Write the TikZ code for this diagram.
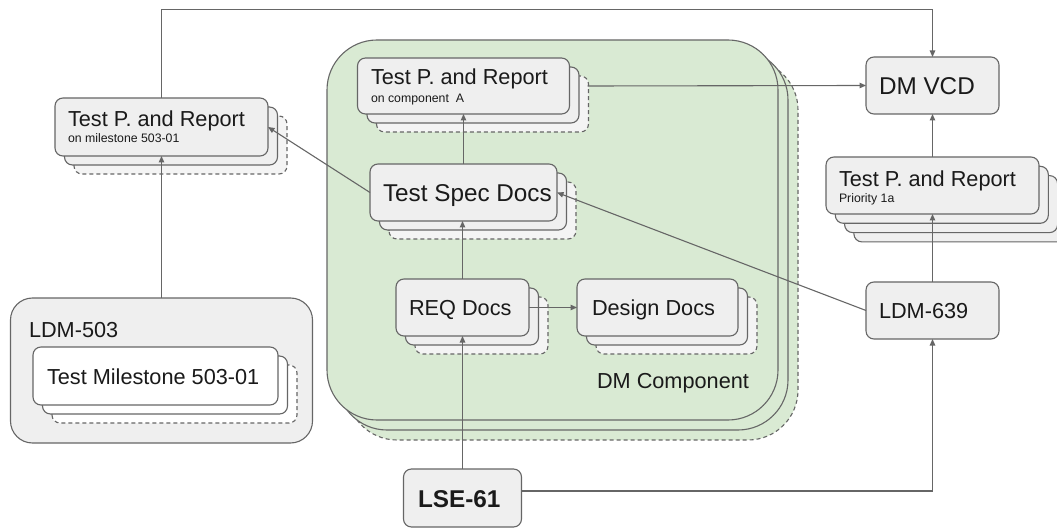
\documentclass[tikz,border=0pt]{standalone}
\usepackage{fontspec}
\setmainfont{Liberation Sans}
\usetikzlibrary{arrows.meta}
\definecolor{lc}{HTML}{666666}
\definecolor{bfill}{HTML}{EFEFEF}
\definecolor{dfill}{HTML}{F4F4F4}
\definecolor{gfill}{HTML}{D9EAD3}
\definecolor{tc}{HTML}{1A1A1A}
\pgfdeclarelayer{bg}
\pgfdeclarelayer{back}
\pgfsetlayers{bg,back,main}
\newcommand\fmain{\fontsize{21.7}{26}\selectfont}
\newcommand\flarge{\fontsize{24.3}{29}\selectfont}
\newcommand\fsmall{\fontsize{12.3}{15}\selectfont}
\newcommand\layerstack[3]{%
  \begin{pgfonlayer}{back}
    \draw[box, dashlayer, fill=#3] ([shift={(19,18)}]#1.south west) rectangle ([shift={(19,18)}]#1.north east);
    \draw[box, fill=#2] ([shift={(9.5,9)}]#1.south west) rectangle ([shift={(9.5,9)}]#1.north east);
  \end{pgfonlayer}}
\begin{document}
\begin{tikzpicture}[x=1pt,y=-1pt,
  box/.style={draw=lc, fill=bfill, rounded corners=8pt, line width=1.1pt, inner sep=0pt, outer sep=0pt},
  dashlayer/.style={dash pattern=on 4pt off 3pt},
  txt/.style={inner sep=0pt, outer sep=0pt, text=tc, anchor=base west},
  arr/.style={draw=lc, line width=1.1pt, -{Triangle[length=6.5pt,width=5.5pt]}},
  gbox/.style={box, fill=gfill, rounded corners=50pt}]
\useasboundingbox (0,0) rectangle (1057,529);

% ---- containers (drawn on the background layer) ----
\node[inner sep=0pt, outer sep=0pt, minimum width=451pt, minimum height=380pt] (dmc) at (552.5,230) {};
\begin{pgfonlayer}{bg}
  \draw[gbox, dashlayer] ([shift={(20,20)}]dmc.south west) rectangle ([shift={(20,20)}]dmc.north east);
  \draw[gbox] ([shift={(10,10)}]dmc.south west) rectangle ([shift={(10,10)}]dmc.north east);
  \draw[gbox] (dmc.south west) rectangle (dmc.north east);
  \node[box, rounded corners=22pt, minimum width=302pt, minimum height=145pt] (ldm503) at (161.5,370.5) {};
\end{pgfonlayer}

% ---- boxes ----
\node[box, minimum width=213pt, minimum height=58pt] (tpl) at (161.5,127) {};
\node[box, minimum width=212pt, minimum height=56pt] (tpc) at (463.5,86) {};
\node[box, minimum width=213pt, minimum height=57pt] (tpp) at (932.5,185.5) {};
\node[box, minimum width=133pt, minimum height=57pt] (dmvcd) at (932.5,85.5) {};
\node[box, minimum width=187pt, minimum height=57pt] (ts) at (463.5,192.5) {};
\node[box, minimum width=133pt, minimum height=57pt] (req) at (462.5,307.5) {};
\node[box, minimum width=161pt, minimum height=57pt] (design) at (657.5,307.5) {};
\node[box, minimum width=133pt, minimum height=57pt] (ldm639) at (932.5,310.5) {};
\node[box, fill=white, minimum width=245pt, minimum height=58pt] (mile) at (155.5,376) {};
\node[box, minimum width=118pt, minimum height=58pt] (lse) at (462.5,498) {};

% ---- stacked layers ----
\layerstack{tpl}{bfill}{dfill}
\layerstack{tpc}{bfill}{dfill}
\layerstack{ts}{bfill}{dfill}
\layerstack{req}{bfill}{dfill}
\layerstack{design}{bfill}{dfill}
\layerstack{mile}{white}{white}
\begin{pgfonlayer}{back}
  \foreach \k in {3,2,1}{
    \draw[box] ([shift={(9.3*\k,9.3*\k)}]tpp.south west) rectangle ([shift={(9.3*\k,9.3*\k)}]tpp.north east);
  }
\end{pgfonlayer}

% ---- texts ----
\node[txt, font=\fmain] (tpl-a) at (68,127) {Test P. and Report};
\node[txt, font=\fsmall] (tpl-b) at (68,143) {on milestone 503-01};
\node[txt, font=\fmain] (tpc-a) at (371,85) {Test P. and Report};
\node[txt, font=\fsmall] (tpc-b) at (371,103) {on component\ \ A};
\node[txt, font=\fmain] (tpp-a) at (839,187) {Test P. and Report};
\node[txt, font=\fsmall] (tpp-b) at (839,203) {Priority 1a};
\node[txt, font=\flarge] (dmvcd-t) at (879,94.5) {DM VCD};
\node[txt, font=\flarge] (ts-t) at (383,201.5) {Test Spec Docs};
\node[txt, font=\fmain] (req-t) at (409,315.5) {REQ Docs};
\node[txt, font=\fmain] (design-t) at (592,315.5) {Design Docs};
\node[txt, font=\fmain] (dmc-t) at (597,388) {DM Component};
\node[txt, font=\fmain] (ldm639-t) at (879,318.5) {LDM-639};
\node[txt, font=\fmain] (ldm503-t) at (29,337) {LDM-503};
\node[txt, font=\fmain] (mile-t) at (47,384) {Test Milestone 503-01};
\node[txt, font=\flarge\bfseries] (lse-t) at (418,507) {LSE-61};

% ---- connectors ----
\coordinate (topy) at (0,9.5);
\draw[arr] (tpl.north) -- (tpl.north |- topy) -| (dmvcd.north);
\draw[arr] (ldm503.north) -- (ldm503.north |- tpl.south);
\draw[arr] ([xshift=18pt]tpc.east) -- (dmvcd.west);
\draw[arr] (ts.north) -- (ts.north |- tpc.south);
\draw[arr] (req.north) -- (req.north |- ts.south);
\draw[arr] (req.east) -- (design.west);
\draw[arr] (ts.west) -- (tpl.east);
\draw[arr] (ldm639.west) -- (ts.east);
\draw[arr] (tpp.north) -- (dmvcd.south);
\draw[arr] (ldm639.north) -- (tpp.south);
\draw[arr] (lse.north) -- (lse.north |- req.south);
\draw[arr] ([yshift=7pt]lse.east) -| (ldm639.south);
\end{tikzpicture}
\end{document}
